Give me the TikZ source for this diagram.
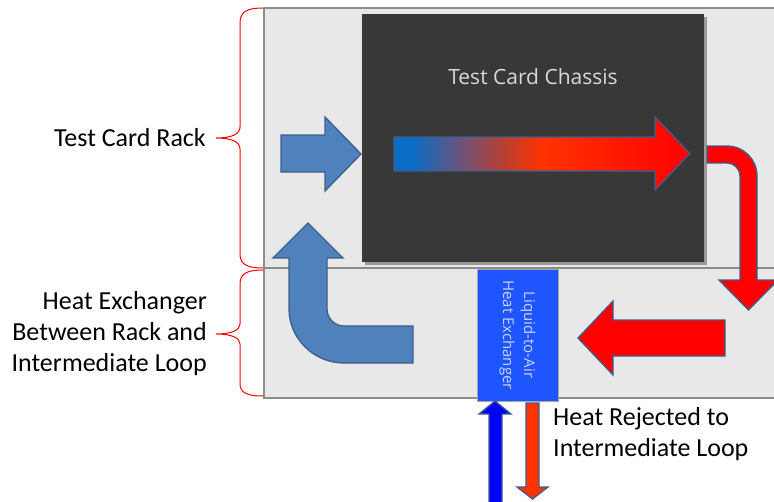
\documentclass[tikz,border=0pt]{standalone}
\usepackage{fontspec}
\setmainfont{Carlito}
\newfontfamily\uifont{Open Sans}
\definecolor{panelfill}{HTML}{E8E8E8}
\definecolor{panelline}{HTML}{8C8C8C}
\definecolor{chassisgray}{HTML}{383838}
\definecolor{arrowedge}{HTML}{3C5F8C}
\definecolor{coolblue}{HTML}{4F81BD}
\definecolor{hotred}{HTML}{FF0000}
\definecolor{warmred}{HTML}{FF3300}
\definecolor{startblue}{HTML}{0A6CC4}
\definecolor{mixpurple}{HTML}{7A5070}
\definecolor{rust}{HTML}{B84030}
\definecolor{hxblue}{HTML}{1F55FF}
\definecolor{hxtext}{HTML}{C8D4FF}
\pgfdeclarehorizontalshading{heatflow}{100bp}{color(0bp)=(startblue); color(28bp)=(startblue);
  color(37.5bp)=(mixpurple); color(43.5bp)=(rust); color(50bp)=(warmred); color(60bp)=(warmred!60!hotred);
  color(75bp)=(hotred); color(100bp)=(hotred)}
\tikzset{
  panel/.style={draw=panelline, line width=1.5pt, fill=panelfill},
  blockarrow/.style={draw=arrowedge, line width=1.3pt, line join=miter},
  rackbrace/.style={draw=red, line width=1pt},
  lbl/.style={font=\fontsize{26}{31}\selectfont, text=black, inner sep=0pt},
}
\begin{document}
\begin{tikzpicture}[x=1pt, y=-1pt]

    \useasboundingbox (0,0) rectangle (774,501);
    \clip (0,0) rectangle (774,501);

    % rack and heat exchanger panels
    \draw [panel] (264,  8) rectangle (790, 268);
    \draw [panel] (264,268) rectangle (790, 398);

    % chassis
    \fill [black!40] (365, 17) rectangle (707, 265);
    \node [fill=chassisgray, minimum width=342pt, minimum height=248pt, inner sep=0pt] (chassis) at (533, 138) {};
    \node [font=\uifont\fontsize{21}{25}\selectfont, text=black!15] (chassislbl) at (533, 77) {Test Card Chassis};

    % air flow through the chassis
    \draw [blockarrow, shading=heatflow]
        (394,137) -- (655,137) -- (655,117) -- (690,153.5) -- (655,190) -- (655,171) -- (394,171) -- cycle;
    \draw [blockarrow, fill=coolblue]
        (281,135) -- (325,135) -- (325,117) -- (361,154) -- (325,191) -- (325,172) -- (281,172) -- cycle;

    % hot air going down to the exchanger
    \draw [blockarrow, fill=hotred]
        (707,146) -- (727,146) .. controls (743.6,146) and (757,159.4) .. (757,176)
        -- (757,280) -- (778,280) -- (748.5,310) -- (719,280) -- (740,280) -- (740,176)
        .. controls (740,168.8) and (734.2,163) .. (727,163) -- (707,163) -- cycle;
    \draw [blockarrow, fill=hotred]
        (725,320) -- (613,320) -- (613,301) -- (578,338) -- (613,375) -- (613,356) -- (725,356) -- cycle;

    % cold air back to the rack
    \draw [blockarrow, fill=coolblue]
        (308,223) -- (343,258) -- (327,258) -- (327,309)
        .. controls (327,318.4) and (334.6,326) .. (344,326) -- (413,326) -- (413,363) -- (344,363)
        .. controls (313.6,363) and (289,338.4) .. (289,309) -- (289,258) -- (273,258) -- cycle;

    % exchanger
    \node [fill=hxblue, draw=black!35, line width=0.8pt, rotate=-90, minimum width=132pt, minimum height=81pt,
           align=center, text=hxtext, font=\uifont\fontsize{15}{21}\selectfont] (hx) at (517.5, 335) {Liquid-to-Air\\Heat Exchanger};

    % intermediate loop
    \draw [blockarrow, fill=blue]
        (495,401) -- (511,414) -- (502,414) -- (502,510) -- (489,510) -- (489,414) -- (479,414) -- cycle;
    \draw [blockarrow, fill=warmred]
        (526,403) -- (539,403) -- (539,487) -- (548,487) -- (532.5,499) -- (517,487) -- (526,487) -- cycle;

    % braces
    \draw [rackbrace] (263,8) .. controls (248,8) and (240,11) .. (240,23) -- (240,127)
        .. controls (240,134) and (232,138) .. (216,138) .. controls (232,138) and (240,142) .. (240,149)
        -- (240,254) .. controls (240,265) and (248,268) .. (263,268);
    \draw [rackbrace] (263,270) .. controls (248,270) and (240,273) .. (240,284) -- (240,324)
        .. controls (240,330) and (232,334) .. (216,334) .. controls (232,334) and (240,338) .. (240,344)
        -- (240,384) .. controls (240,393) and (248,396) .. (263,396);

    % labels
    \node [lbl, anchor=east] (racklbl) at (206,138) {Test Card Rack};
    \node [lbl, anchor=east, align=right] (hxlbl) at (207,334) {Heat Exchanger\\Between Rack and\\Intermediate Loop};
    \node [lbl, anchor=west, align=left] (rejectlbl) at (553,434) {Heat Rejected to\\Intermediate Loop};

\end{tikzpicture}
\end{document}
